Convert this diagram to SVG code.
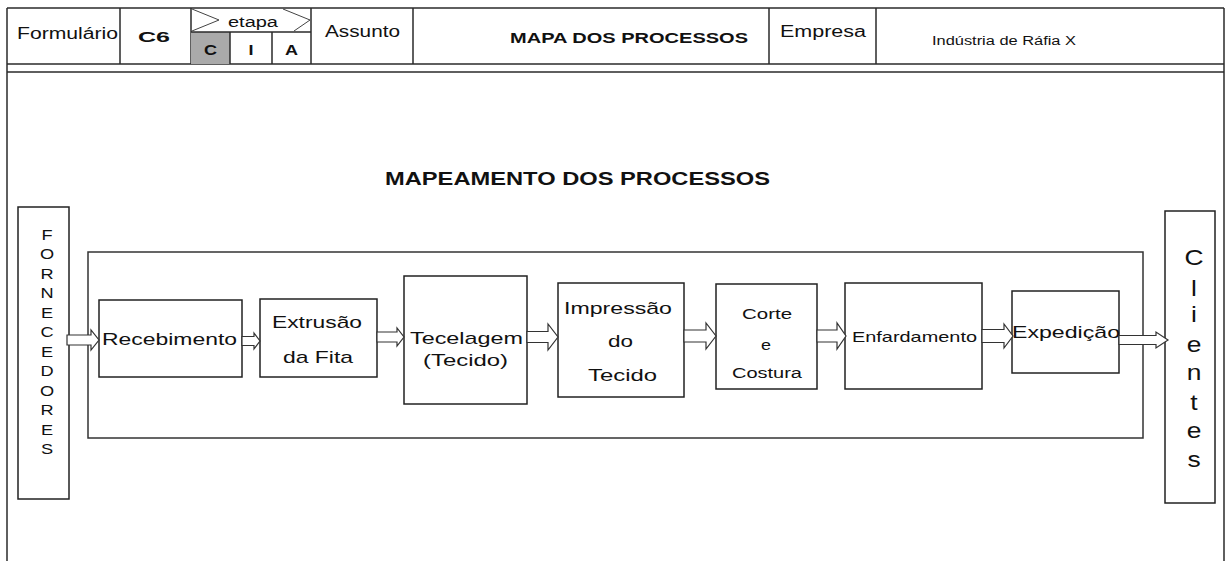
<svg xmlns="http://www.w3.org/2000/svg" width="1226" height="561" viewBox="0 0 1226 561">
<style>
.ln{stroke:#2a2a2a;stroke-width:1.5;fill:none}
.box{fill:#fff;stroke:#222;stroke-width:1.5}
.t{font-family:"Liberation Sans",Arial,sans-serif;fill:#111}
.b{font-weight:bold}
.arr{fill:#fff;stroke:#333;stroke-width:1.2;stroke-linejoin:miter}
</style>
<rect width="1226" height="561" fill="#fff"/>
<g id="header">
<line class="ln" x1="7" y1="8" x2="1224" y2="8"/>
<line class="ln" x1="7" y1="64" x2="1224" y2="64"/>
<line class="ln" x1="7" y1="72" x2="1224" y2="72"/>
<line class="ln" x1="7" y1="8" x2="7" y2="561"/>
<line class="ln" x1="1224" y1="8" x2="1224" y2="561"/>
<line class="ln" x1="120" y1="8" x2="120" y2="64"/>
<line class="ln" x1="191" y1="8" x2="191" y2="64"/>
<line class="ln" x1="311" y1="8" x2="311" y2="64"/>
<line class="ln" x1="413" y1="8" x2="413" y2="64"/>
<line class="ln" x1="769" y1="8" x2="769" y2="64"/>
<line class="ln" x1="876" y1="8" x2="876" y2="64"/>
<rect x="191" y="32" width="39" height="32" fill="#aaaaaa"/>
<line class="ln" x1="191" y1="32" x2="311" y2="32"/>
<line class="ln" x1="230" y1="32" x2="230" y2="64"/>
<line class="ln" x1="272" y1="32" x2="272" y2="64"/>
<polyline points="192,9 219,20 192,31" fill="none" stroke="#444" stroke-width="1"/>
<polyline points="283,9 310,20 294,31" fill="none" stroke="#444" stroke-width="1"/>
<text class="t" x="17" y="39" font-size="16" textLength="101" lengthAdjust="spacingAndGlyphs">Formulário</text>
<text class="t b" x="138" y="42" font-size="15" textLength="32" lengthAdjust="spacingAndGlyphs">C6</text>
<text class="t" x="228" y="27" font-size="14" textLength="50" lengthAdjust="spacingAndGlyphs">etapa</text>
<text class="t b" x="204" y="55" font-size="15" textLength="13" lengthAdjust="spacingAndGlyphs">C</text>
<text class="t b" x="248.5" y="55" font-size="15" textLength="5" lengthAdjust="spacingAndGlyphs">I</text>
<text class="t b" x="285" y="55" font-size="15" textLength="13" lengthAdjust="spacingAndGlyphs">A</text>
<text class="t" x="325" y="37" font-size="16" textLength="75" lengthAdjust="spacingAndGlyphs">Assunto</text>
<text class="t b" x="510" y="43" font-size="15" textLength="238" lengthAdjust="spacingAndGlyphs">MAPA DOS PROCESSOS</text>
<text class="t" x="780" y="37" font-size="16" textLength="86" lengthAdjust="spacingAndGlyphs">Empresa</text>
<text class="t" x="932" y="45" font-size="12" textLength="144" lengthAdjust="spacingAndGlyphs">Indústria de Ráfia X</text>
</g>
<g id="title">
<text class="t b" x="385" y="185" font-size="18" textLength="385" lengthAdjust="spacingAndGlyphs">MAPEAMENTO DOS PROCESSOS</text>
</g>
<g id="frame">
<rect x="88" y="252" width="1055" height="186" fill="none" stroke="#333" stroke-width="1.5"/>
</g>
<g id="fornecedores">
<rect class="box" x="18" y="207" width="51" height="292"/>
<text class="t" font-size="14" text-anchor="middle" transform="translate(47,0) scale(1.3,1)">
<tspan x="0" y="240">F</tspan><tspan x="0" y="259.5">O</tspan><tspan x="0" y="279">R</tspan><tspan x="0" y="298.5">N</tspan><tspan x="0" y="318">E</tspan><tspan x="0" y="337.5">C</tspan><tspan x="0" y="357">E</tspan><tspan x="0" y="376.5">D</tspan><tspan x="0" y="396">O</tspan><tspan x="0" y="415.5">R</tspan><tspan x="0" y="435">E</tspan><tspan x="0" y="454.5">S</tspan>
</text>
</g>
<g id="recebimento">
<rect class="box" x="99" y="300" width="143" height="77"/>
<text class="t" x="102" y="345" font-size="17" textLength="135" lengthAdjust="spacingAndGlyphs">Recebimento</text>
</g>
<g id="extrusao">
<rect class="box" x="260" y="299" width="117" height="78"/>
<text class="t" x="272" y="328" font-size="17" textLength="90" lengthAdjust="spacingAndGlyphs">Extrusão</text>
<text class="t" x="283" y="363" font-size="17" textLength="70" lengthAdjust="spacingAndGlyphs">da Fita</text>
</g>
<g id="tecelagem">
<rect class="box" x="404" y="276" width="123" height="128"/>
<text class="t" x="410" y="344" font-size="17" textLength="113" lengthAdjust="spacingAndGlyphs">Tecelagem</text>
<text class="t" x="423" y="366" font-size="17" textLength="85" lengthAdjust="spacingAndGlyphs">(Tecido)</text>
</g>
<g id="impressao">
<rect class="box" x="558" y="283" width="126" height="114"/>
<text class="t" x="564" y="314" font-size="17" textLength="108" lengthAdjust="spacingAndGlyphs">Impressão</text>
<text class="t" x="608" y="347" font-size="17" textLength="25" lengthAdjust="spacingAndGlyphs">do</text>
<text class="t" x="588" y="381" font-size="17" textLength="69" lengthAdjust="spacingAndGlyphs">Tecido</text>
</g>
<g id="corte">
<rect class="box" x="716" y="284" width="101" height="105"/>
<text class="t" x="742" y="319" font-size="14" textLength="50" lengthAdjust="spacingAndGlyphs">Corte</text>
<text class="t" x="761" y="350" font-size="14" textLength="10" lengthAdjust="spacingAndGlyphs">e</text>
<text class="t" x="732" y="378" font-size="14" textLength="70" lengthAdjust="spacingAndGlyphs">Costura</text>
</g>
<g id="enfardamento">
<rect class="box" x="845" y="283" width="137" height="106"/>
<text class="t" x="852" y="342" font-size="15" textLength="125" lengthAdjust="spacingAndGlyphs">Enfardamento</text>
</g>
<g id="expedicao">
<rect class="box" x="1012" y="291" width="107" height="82"/>
<text class="t" x="1012" y="338" font-size="17" textLength="108" lengthAdjust="spacingAndGlyphs">Expedição</text>
</g>
<g id="clientes">
<rect class="box" x="1165" y="211" width="50" height="292"/>
<text class="t" font-size="22" text-anchor="middle" transform="translate(1194,0) scale(1.2,1)">
<tspan x="0" y="265">C</tspan><tspan x="0" y="296">l</tspan><tspan x="0" y="322">i</tspan><tspan x="0" y="352">e</tspan><tspan x="0" y="380">n</tspan><tspan x="0" y="410">t</tspan><tspan x="0" y="438">e</tspan><tspan x="0" y="467">s</tspan>
</text>
</g>
<g id="connectors">
<path class="arr" d="M67,335 L91,335 L91,330 L99,340 L91,350 L91,345 L67,345 Z"/>
<path class="arr" d="M242,336.5 L254,336.5 L254,333 L260,341 L254,349 L254,345.5 L242,345.5 Z"/>
<path class="arr" d="M377,332 L397,332 L397,328 L404,337 L397,346 L397,342 L377,342 Z"/>
<path class="arr" d="M527,331.5 L548,331.5 L548,324 L558,337 L548,350 L548,342.5 L527,342.5 Z"/>
<path class="arr" d="M684,330 L706,330 L706,323 L716,336 L706,349 L706,342 L684,342 Z"/>
<path class="arr" d="M817,330 L837,330 L837,323 L846,336 L837,349 L837,342 L817,342 Z"/>
<path class="arr" d="M982,329.5 L1004,329.5 L1004,324 L1013,336 L1004,348 L1004,342.5 L982,342.5 Z"/>
<path class="arr" d="M1119,335.5 L1156,335.5 L1156,332 L1168,340 L1156,348 L1156,344.5 L1119,344.5 Z"/>
</g>
</svg>
